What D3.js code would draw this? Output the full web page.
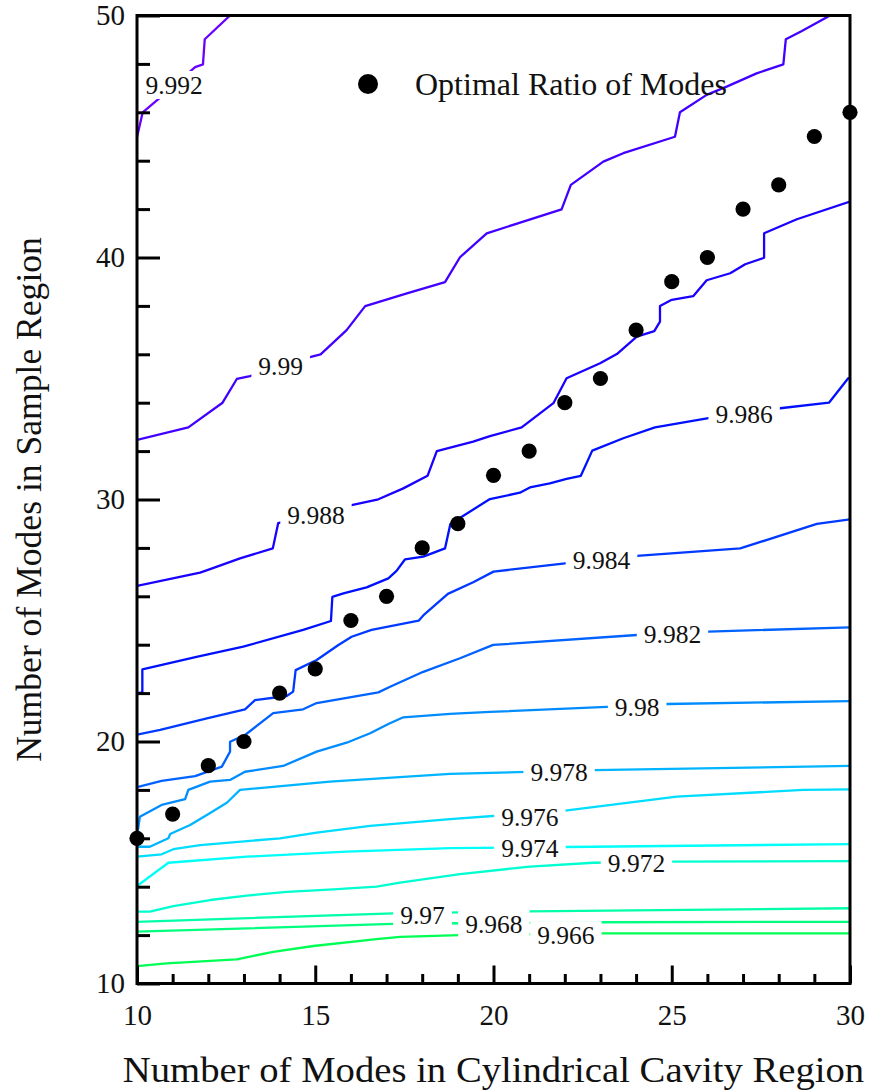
<!DOCTYPE html>
<html>
<head>
<meta charset="utf-8">
<script src="https://cdn.jsdelivr.net/npm/d3@7"></script>
<style>
  html, body { margin: 0; padding: 0; background: #fff; }
  svg { display: block; font-family: "Liberation Serif", "Times New Roman", Times, serif; }
</style>
</head>
<body>
<svg id="chart" width="871" height="1091"></svg>
<script>
// Contour levels of the ratio, lowest to highest
const contourLevels = [9.966, 9.968, 9.97, 9.972, 9.974, 9.976, 9.978, 9.98, 9.982, 9.984, 9.986, 9.988, 9.99, 9.992];

// Contour polylines as [cavity modes, sample modes]
const c9966 = [[10,10.72],[10.83,10.83],[12.80,11.0],[13.82,11.31],[14.95,11.55],[16.72,11.83],[17.38,11.93],[19.06,12.0],[23.02,12.07],[30,12.07]];
const c9968 = [[10,12.14],[17.19,12.46],[19.09,12.49],[23.02,12.53],[30,12.55]];
const c9970 = [[10,12.55],[17.19,12.90],[21.02,12.98],[30,13.11]];
const c9972 = [[10,12.97],[10.36,12.97],[11.02,13.20],[12.05,13.45],[13.08,13.63],[14.20,13.79],[15.51,13.89],[16.72,14.0],[17.38,14.17],[19.06,14.52],[21.02,14.83],[22.80,14.99],[25.03,15.04],[30,15.06]];
const c9974 = [[10,14.03],[10.88,14.99],[13.08,15.24],[15.88,15.45],[18.78,15.59],[22.03,15.64],[30,15.76]];
const c9976 = [[10,15.24],[10.69,15.34],[11.02,15.55],[11.77,15.72],[14.01,16.0],[15.04,16.23],[16.54,16.51],[18.78,16.79],[22.01,17.14],[25.14,17.72],[28.69,18.0],[30,18.02]];
const c9978 = [[10,15.65],[10.36,15.65],[10.88,16.0],[10.93,16.18],[11.49,16.55],[11.96,16.96],[12.52,17.47],[12.89,18.0],[15.41,18.34],[18.78,18.66],[22.82,18.82],[30,18.99]];
const c9980 = [[10,16.07],[10.08,16.89],[10.69,17.38],[11.35,17.62],[11.44,18.0],[12.05,18.34],[12.61,18.41],[13.03,18.75],[14.10,18.99],[15.04,19.58],[15.88,19.95],[16.54,20.34],[17.05,20.72],[17.47,21.0],[18.78,21.14],[19.90,21.22],[23.18,21.43],[24.87,21.55],[30,21.67]];
const c9982 = [[10,18.11],[10.69,18.37],[11.63,18.57],[12.38,18.96],[12.61,19.58],[12.61,19.99],[13.03,20.27],[13.82,21.17],[14.66,21.33],[15.04,21.59],[16.77,22.03],[17.10,22.26],[18.03,22.88],[19.06,23.44],[19.99,23.99],[24.02,24.40],[26.03,24.54],[30,24.72]];
const c9984 = [[10,20.28],[10.65,20.48],[11.96,20.96],[13.03,21.33],[13.31,21.71],[14.20,21.88],[14.38,22.06],[14.45,22.95],[15.04,23.37],[15.65,23.99],[16.02,24.33],[16.58,24.61],[17.90,24.99],[18.03,25.21],[18.72,26.10],[19.43,26.58],[20.0,27.02],[22.01,27.36],[24.02,27.67],[26.92,27.98],[29.07,28.99],[30,29.18]];
const c9986 = [[10,22.0],[10.15,22.03],[10.15,22.98],[11.67,23.50],[12.98,23.92],[14.66,24.61],[15.44,24.98],[15.48,25.98],[15.79,26.12],[16.44,26.37],[17.05,26.74],[17.28,27.05],[17.52,27.53],[18.03,27.64],[18.64,27.98],[18.79,28.99],[19.90,30.02],[20.74,30.28],[21.02,30.50],[21.58,30.67],[22.05,30.85],[22.45,30.98],[22.77,32.02],[23.64,32.53],[24.53,32.98],[26.03,33.36],[28.04,33.77],[29.41,34.0],[29.95,35.01],[30,35.01]];
const c9988 = [[10,26.43],[11.77,26.98],[12.05,27.12],[12.89,27.57],[13.81,27.98],[13.96,29.02],[16.02,29.77],[16.77,30.01],[17.47,30.46],[18.15,30.98],[18.41,32.0],[19.43,32.39],[19.90,32.62],[20.79,32.98],[21.68,33.98],[22.05,35.01],[22.99,35.63],[23.46,36.01],[24.02,36.73],[24.51,36.96],[24.67,37.35],[24.67,38.0],[25.0,38.25],[25.60,38.40],[25.98,39.06],[26.64,39.35],[27.06,39.72],[27.59,39.99],[27.59,41.0],[28.51,41.58],[30,42.31]];
const c9990 = [[10,32.46],[11.44,32.98],[12.40,34.0],[12.80,34.98],[13.17,35.10],[14.85,35.88],[15.15,36.0],[15.88,37.0],[16.40,37.99],[17.57,38.52],[18.64,38.98],[19.06,40.01],[19.81,41.0],[21.91,41.99],[22.17,43.0],[23.08,43.96],[23.64,44.31],[25.09,44.99],[25.23,46.0],[25.98,46.72],[26.54,47.06],[27.38,47.61],[28.13,47.98],[28.20,49.02],[28.65,49.36],[29.44,50.0]];
const c9992 = [[10,44.97],[10.16,46.0],[10.59,46.53],[11.63,47.87],[11.85,47.98],[11.90,49.02],[12.61,50.0]];

const contourPaths = [c9966, c9968, c9970, c9972, c9974, c9976, c9978, c9980, c9982, c9984, c9986, c9988, c9990, c9992];

// Where each level's value label sits (data coordinates)
const labelX = [22.03, 20.01, 18.01, 24.01, 21.02, 21.02, 21.84, 24.03, 25.02, 23.03, 27.03, 15.02, 14.03, 11.04];
const labelY = [12.00, 12.46, 12.83, 14.98, 15.60, 16.88, 18.74, 21.43, 24.44, 27.50, 33.53, 29.36, 35.52, 47.13];

// Optimal ratio of modes
const optimalX = [10, 11, 12, 13, 14, 15, 16, 17, 18, 19, 20, 21, 22, 23, 24, 25, 26, 27, 28, 29, 30];
const optimalY = [16, 17, 19, 20, 22, 23, 25, 26, 28, 29, 31, 32, 34, 35, 37, 39, 40, 42, 43, 45, 46];

// Ticks
const xTickValues = [10, 11, 12, 13, 14, 15, 16, 17, 18, 19, 20, 21, 22, 23, 24, 25, 26, 27, 28, 29, 30];
const xLabelValues = [10, 15, 20, 25, 30];
const yTickValues = [10, 12, 14, 16, 18, 20, 22, 24, 26, 28, 30, 32, 34, 36, 38, 40, 42, 44, 46, 48, 50];
const yLabelValues = [10, 20, 30, 40, 50];

const legendText = "Optimal Ratio of Modes";
const xTitle = "Number of Modes in Cylindrical Cavity Region";
const yTitle = "Number of Modes in Sample Region";

// ---- drawing ----
const svg = d3.select("#chart");
const plot = { left: 137, right: 850, top: 15.5, bottom: 983.5 };

const x = d3.scaleLinear().domain([10, 30]).range([plot.left, plot.right]);
const y = d3.scaleLinear().domain([10, 50]).range([plot.bottom, plot.top]);

// green -> cyan -> blue -> violet colour ramp over the levels
const hue = d3.scaleLinear().domain([9.966, 9.992]).range([140, 265]);
const levelColor = v => d3.hsl(hue(v), 1, 0.5).formatHex();

svg.append("rect").attr("width", 871).attr("height", 1091).attr("fill", "#fff");

svg.append("defs").append("clipPath").attr("id", "plotClip")
  .append("rect")
  .attr("x", plot.left).attr("y", plot.top)
  .attr("width", plot.right - plot.left).attr("height", plot.bottom - plot.top);

const line = d3.line().x(d => x(d[0])).y(d => y(d[1]));

const gLines = svg.append("g").attr("clip-path", "url(#plotClip)");
contourLevels.forEach((lv, i) => {
  gLines.append("path")
    .attr("d", line(contourPaths[i]))
    .attr("fill", "none")
    .attr("stroke", levelColor(lv))
    .attr("stroke-width", 2.3)
    .attr("stroke-linejoin", "round");
});

// level labels on white boxes
const labelSize = 25.5;
const gLabels = svg.append("g");
contourLevels.forEach((lv, i) => {
  const g = gLabels.append("g")
    .attr("transform", `translate(${x(labelX[i])},${y(labelY[i])})`);
  const box = g.append("rect").attr("fill", "#fff");
  const t = g.append("text")
    .attr("text-anchor", "middle")
    .attr("y", labelSize * 0.34)
    .attr("font-size", labelSize)
    .attr("fill", "#111")
    .text(String(lv));
  const w = t.node().getBBox().width;
  box.attr("x", -w / 2 - 7).attr("y", -14).attr("width", w + 14).attr("height", 28);
});

// optimal points
svg.append("g").selectAll("circle")
  .data(optimalX.map((v, i) => [v, optimalY[i]]))
  .join("circle")
  .attr("cx", d => x(d[0]))
  .attr("cy", d => y(d[1]))
  .attr("r", 7.6)
  .attr("fill", "#000");

// legend
const legend = svg.append("g");
legend.append("circle").attr("cx", 368).attr("cy", 84).attr("r", 10).attr("fill", "#000");
legend.append("text").attr("x", 415).attr("y", 94.5).attr("font-size", 32).attr("fill", "#111").text(legendText);

// axes with inward ticks
const tickFont = 29;
const styleAxis = g => {
  g.select(".domain").remove();
  g.selectAll(".tick line").attr("stroke", "#000").attr("stroke-width", 3);
  g.selectAll(".tick text").attr("font-family", "'Liberation Serif','Times New Roman',serif")
    .attr("font-size", tickFont).attr("fill", "#111");
};

svg.append("g").attr("transform", `translate(0,${plot.bottom})`)
  .call(d3.axisBottom(x).tickValues(xTickValues.filter(v => v % 5 !== 0)).tickSize(-9.5).tickSizeOuter(0).tickFormat(""))
  .call(styleAxis);
svg.append("g").attr("transform", `translate(0,${plot.bottom})`)
  .call(d3.axisBottom(x).tickValues(xLabelValues).tickSize(-18).tickSizeOuter(0).tickPadding(21).tickFormat(d3.format("d")))
  .call(styleAxis);

svg.append("g").attr("transform", `translate(${plot.left},0)`)
  .call(d3.axisLeft(y).tickValues(yTickValues.filter(v => v % 10 !== 0)).tickSize(-13).tickSizeOuter(0).tickFormat(""))
  .call(styleAxis);
svg.append("g").attr("transform", `translate(${plot.left},0)`)
  .call(d3.axisLeft(y).tickValues(yLabelValues).tickSize(-23).tickSizeOuter(0).tickPadding(12).tickFormat(d3.format("d")))
  .call(styleAxis);

// frame
svg.append("rect")
  .attr("x", plot.left).attr("y", plot.top)
  .attr("width", plot.right - plot.left).attr("height", plot.bottom - plot.top)
  .attr("fill", "none").attr("stroke", "#000").attr("stroke-width", 3);

// axis titles
svg.append("text")
  .attr("transform", `translate(${(plot.left + plot.right) / 2},1082) scale(1.075,1)`)
  .attr("text-anchor", "middle").attr("font-size", 36).attr("fill", "#111")
  .text(xTitle);
svg.append("text")
  .attr("transform", `translate(41,${(plot.top + plot.bottom) / 2}) rotate(-90)`)
  .attr("text-anchor", "middle").attr("font-size", 35.6).attr("fill", "#111")
  .text(yTitle);
</script>
</body>
</html>
